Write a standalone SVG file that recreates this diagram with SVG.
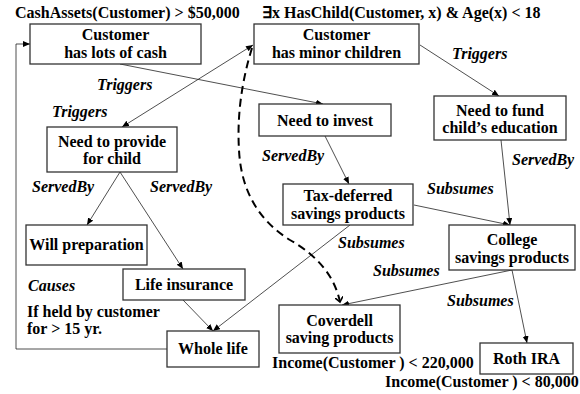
<svg xmlns="http://www.w3.org/2000/svg" width="580" height="394" viewBox="0 0 580 394">
<style>
svg text.t{font-family:'Liberation Serif',serif !important;font-size:16px;font-weight:bold;fill:#000}
svg text.i{font-style:italic}
svg text.c{text-anchor:middle}
rect{fill:#fff;stroke:#333;stroke-width:1.3}
.e{fill:none;stroke:#222;stroke-width:0.8}
.d{fill:none;stroke:#000;stroke-width:2;stroke-dasharray:8 5}
</style>
<defs>
<marker id="a" markerUnits="userSpaceOnUse" markerWidth="8" markerHeight="7" refX="7" refY="3" orient="auto"><path d="M0,0 L7,3 L0,6 z" fill="#000"/></marker>
<marker id="as" markerUnits="userSpaceOnUse" markerWidth="8" markerHeight="7" refX="0" refY="3" orient="auto"><path d="M7,0 L0,3 L7,6 z" fill="#000"/></marker>
<marker id="ad" markerUnits="userSpaceOnUse" markerWidth="10" markerHeight="8" refX="5" refY="4" orient="auto"><path d="M0,0 L5,4 L0,8" fill="none" stroke="#000" stroke-width="1.6"/></marker>
</defs>

<g id="connectors">
<polyline class="e" points="167,349 16,349 16,44 30,44" marker-end="url(#a)"/>
<line class="e" x1="120" y1="64" x2="323" y2="104" marker-end="url(#a)"/>
<line class="e" x1="253" y1="45" x2="122" y2="127" marker-start="url(#as)" marker-end="url(#a)"/>
<line class="e" x1="420" y1="45" x2="499" y2="96" marker-end="url(#a)"/>
<line class="e" x1="325" y1="136" x2="349" y2="184" marker-end="url(#a)"/>
<line class="e" x1="501" y1="140" x2="510" y2="225" marker-end="url(#a)"/>
<line class="e" x1="414" y1="205" x2="510" y2="225" marker-end="url(#a)"/>
<line class="e" x1="120" y1="172" x2="87" y2="225" marker-end="url(#a)"/>
<line class="e" x1="120" y1="172" x2="183" y2="269" marker-end="url(#a)"/>
<line class="e" x1="183" y1="300" x2="213" y2="331" marker-end="url(#a)"/>
<line class="e" x1="350" y1="225" x2="213" y2="331" marker-end="url(#a)"/>
<line class="e" x1="512" y1="270" x2="342" y2="305" marker-end="url(#a)"/>
<line class="e" x1="512" y1="270" x2="527" y2="343" marker-end="url(#a)"/>
<path class="d" d="M252,48 Q236,100 239,150 Q242,210 290,240 Q332,264 340,302" marker-end="url(#ad)"/>
</g>

<g id="labels">
<text class="t" style="font-family:'Liberation Serif',serif !important" x="15" y="18">CashAssets(Customer) &gt; $50,000</text>
<text class="t" style="font-family:'Liberation Serif',serif !important" x="262" y="18">∃x HasChild(Customer, x) &amp; Age(x) &lt; 18</text>
<text class="t" style="font-family:'Liberation Serif',serif !important" x="272" y="368">Income(Customer ) &lt; 220,000</text>
<text class="t" style="font-family:'Liberation Serif',serif !important" x="385" y="387">Income(Customer ) &lt; 80,000</text>
<text class="t" style="font-family:'Liberation Serif',serif !important" x="27" y="317">If held by customer</text>
<text class="t" style="font-family:'Liberation Serif',serif !important" x="27" y="334">for &gt; 15 yr.</text>
<text class="t i" style="font-family:'Liberation Serif',serif !important" x="97" y="90">Triggers</text>
<text class="t i" style="font-family:'Liberation Serif',serif !important" x="52" y="117">Triggers</text>
<text class="t i" style="font-family:'Liberation Serif',serif !important" x="452" y="59">Triggers</text>
<text class="t i" style="font-family:'Liberation Serif',serif !important" x="32" y="192">ServedBy</text>
<text class="t i" style="font-family:'Liberation Serif',serif !important" x="150" y="192">ServedBy</text>
<text class="t i" style="font-family:'Liberation Serif',serif !important" x="262" y="161">ServedBy</text>
<text class="t i" style="font-family:'Liberation Serif',serif !important" x="512" y="165">ServedBy</text>
<text class="t i" style="font-family:'Liberation Serif',serif !important" x="427" y="194">Subsumes</text>
<text class="t i" style="font-family:'Liberation Serif',serif !important" x="338" y="248">Subsumes</text>
<text class="t i" style="font-family:'Liberation Serif',serif !important" x="373" y="276">Subsumes</text>
<text class="t i" style="font-family:'Liberation Serif',serif !important" x="447" y="306">Subsumes</text>
<text class="t i" style="font-family:'Liberation Serif',serif !important" x="28" y="291">Causes</text>
</g>

<g id="cash"><rect x="30" y="24" width="171" height="40"/><text class="t c" style="font-family:'Liberation Serif',serif !important" x="115.5" y="40">Customer</text><text class="t c" style="font-family:'Liberation Serif',serif !important" x="115.5" y="58">has lots of cash</text></g>
<g id="minor"><rect x="254" y="24" width="165" height="40"/><text class="t c" style="font-family:'Liberation Serif',serif !important" x="336.5" y="40">Customer</text><text class="t c" style="font-family:'Liberation Serif',serif !important" x="336.5" y="58">has minor children</text></g>
<g id="provide"><rect x="47" y="127" width="130" height="45"/><text class="t c" style="font-family:'Liberation Serif',serif !important" x="112" y="147">Need to provide</text><text class="t c" style="font-family:'Liberation Serif',serif !important" x="112" y="164">for child</text></g>
<g id="invest"><rect x="259" y="104" width="132" height="32"/><text class="t c" style="font-family:'Liberation Serif',serif !important" x="325" y="126">Need to invest</text></g>
<g id="fund"><rect x="434" y="96" width="132" height="44"/><text class="t c" style="font-family:'Liberation Serif',serif !important" x="500" y="116">Need to fund</text><text class="t c" style="font-family:'Liberation Serif',serif !important" x="500" y="133">child’s education</text></g>
<g id="taxdef"><rect x="283" y="184" width="130" height="41"/><text class="t c" style="font-family:'Liberation Serif',serif !important" x="348" y="201">Tax-deferred</text><text class="t c" style="font-family:'Liberation Serif',serif !important" x="348" y="219">savings products</text></g>
<g id="college"><rect x="449" y="225" width="126" height="45"/><text class="t c" style="font-family:'Liberation Serif',serif !important" x="512" y="245">College</text><text class="t c" style="font-family:'Liberation Serif',serif !important" x="512" y="263">savings products</text></g>
<g id="will"><rect x="26" y="225" width="121" height="40"/><text class="t c" style="font-family:'Liberation Serif',serif !important" x="86.5" y="250">Will preparation</text></g>
<g id="life"><rect x="123" y="269" width="122" height="31"/><text class="t c" style="font-family:'Liberation Serif',serif !important" x="184" y="290">Life insurance</text></g>
<g id="whole"><rect x="167" y="331" width="92" height="36"/><text class="t c" style="font-family:'Liberation Serif',serif !important" x="213" y="354">Whole life</text></g>
<g id="coverdell"><rect x="279" y="305" width="121" height="48"/><text class="t c" style="font-family:'Liberation Serif',serif !important" x="339.5" y="326">Coverdell</text><text class="t c" style="font-family:'Liberation Serif',serif !important" x="339.5" y="343">saving products</text></g>
<g id="roth"><rect x="480" y="343" width="93" height="31"/><text class="t c" style="font-family:'Liberation Serif',serif !important" x="526.5" y="364">Roth IRA</text></g>
</svg>
